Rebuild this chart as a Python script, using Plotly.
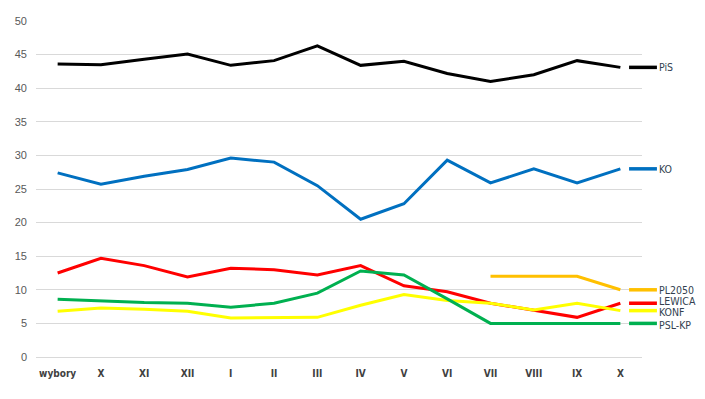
import plotly.graph_objects as go

months = ["wybory", "X", "XI", "XII", "I", "II", "III", "IV", "V", "VI", "VII", "VIII", "IX", "X"]

pis = [43.6, 43.5, 44.3, 45.1, 43.4, 44.1, 46.3, 43.4, 44.0, 42.2, 41.0, 42.0, 44.1, 43.1]
ko = [27.4, 25.7, 26.9, 27.9, 29.6, 29.0, 25.5, 20.5, 22.8, 29.3, 25.9, 28.0, 25.9, 28.0]
lewica = [12.5, 14.7, 13.6, 11.9, 13.2, 13.0, 12.2, 13.6, 10.6, 9.7, 8.0, 7.0, 5.9, 8.0]
konf = [6.8, 7.3, 7.1, 6.8, 5.8, 5.9, 5.9, 7.7, 9.3, 8.4, 8.0, 7.0, 8.0, 6.9]
psl = [8.6, 8.3, 8.1, 8.0, 7.4, 8.0, 9.5, 12.8, 12.2, 8.65, 5.0, 5.0, 5.0, 5.0]
pl2050 = [None, None, None, None, None, None, None, None, None, None, 12.0, 12.0, 12.0, 10.0]

series = [
    ("PiS", pis, "#000000", 0),
    ("KO", ko, "#0070C0", 0),
    ("PL2050", pl2050, "#FFC000", 0),
    ("LEWICA", lewica, "#FF0000", 2.5),
    ("KONF", konf, "#FFFF00", -1),
    ("PSL-KP", psl, "#00B050", -1.5),
]

# page body has an 8px margin; figure sized to fit the 705x399 window
OFF = 8
W, H = 705 - OFF, 399 - OFF
L, T = 33 - OFF, 15 - OFF
R = W - (642 - OFF)
B = H - (357 - OFF)
pw = W - L - R
ph = H - T - B

NARROW = "Liberation Sans Narrow, DejaVu Sans Condensed, Liberation Sans, Arial"

xs = list(range(len(months)))
fig = go.Figure()
for name, vals, col, _ in series:
    fig.add_trace(go.Scatter(x=xs, y=vals, mode="lines", name=name,
                             line=dict(color=col, width=3), connectgaps=False,
                             showlegend=False))

def px2paper_x(p):
    return (p - OFF - L) / pw

shapes = []
annotations = []
for name, vals, col, ys in series:
    last = vals[-1]
    shapes.append(dict(type="line", xref="paper", yref="y",
                       x0=px2paper_x(629), x1=px2paper_x(657), y0=last, y1=last,
                       line=dict(color=col, width=3.5)))
    annotations.append(dict(xref="paper", yref="y", x=px2paper_x(657), y=last, yshift=ys,
                            text=name, showarrow=False, xanchor="left", yanchor="middle",
                            font=dict(family=NARROW, size=10.5, color="#333F50")))

fig.update_layout(
    width=W, height=H,
    margin=dict(l=L, r=R, t=T, b=B, pad=0),
    paper_bgcolor="white", plot_bgcolor="white",
    shapes=shapes, annotations=annotations,
    xaxis=dict(range=[-0.5, len(months) - 0.5], tickmode="array", tickvals=xs, ticktext=months,
               showgrid=False, showline=True, linecolor="#D9D9D9", linewidth=1, zeroline=False,
               ticks="", ticklabelstandoff=7,
               tickfont=dict(family=NARROW, size=10, color="#404040", weight="bold"),
               fixedrange=True),
    yaxis=dict(range=[0, 50], dtick=5, showgrid=True, gridcolor="#D9D9D9", gridwidth=1,
               zeroline=False, showline=False, ticks="", ticklabelstandoff=8,
               tickfont=dict(family="Liberation Sans, Arial", size=11, color="#595959"),
               fixedrange=True),
    font=dict(family="Liberation Sans, Arial"),
)

fig.write_html("out.html")
